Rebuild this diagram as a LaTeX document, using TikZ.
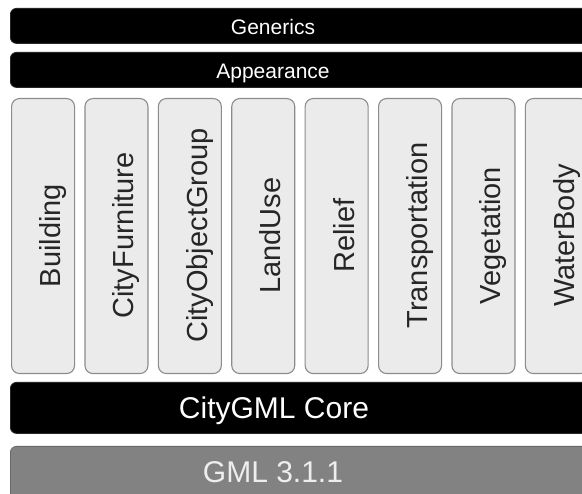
\documentclass[tikz,border=0pt]{standalone}
\usepackage{fontspec}
\setmainfont{Liberation Sans}
\definecolor{colfill}{HTML}{EBEBEB}
\definecolor{colline}{HTML}{8C8C8C}
\definecolor{gmlfill}{HTML}{828282}
\definecolor{gmltext}{HTML}{EEEEEE}
\begin{document}
\begin{tikzpicture}[x=1pt,y=-1pt,
  barbox/.style={draw=black!85, fill=black, rounded corners=6pt, line width=0.8pt,
    anchor=north west, inner sep=0pt, minimum width=640pt},
  gmlbox/.style={draw=gmlfill!80!black, fill=gmlfill, rounded corners=6pt, line width=0.8pt,
    anchor=north west, inner sep=0pt, minimum width=640pt, minimum height=80pt},
  colbox/.style={draw=colline, fill=colfill, rounded corners=8pt, line width=1.1pt,
    anchor=north west, inner sep=0pt, minimum width=63pt, minimum height=275pt},
  smalltext/.style={text=white, anchor=base, inner sep=0pt, font=\fontsize{21}{24}\selectfont},
  bigtext/.style={anchor=base, inner sep=0pt, font=\fontsize{30}{34}\selectfont},
  coltext/.style={text=black!85, anchor=base, rotate=90, inner sep=0pt, font=\fontsize{29}{32}\selectfont}
]
\clip (0,0) rectangle (582,494);
\fill[white] (0,0) rectangle (582,494);
% bars
\node[barbox, minimum height=35pt] (generics) at (10,8) {};
\node[smalltext] (genericsT) at (273,35) {Generics};
\node[barbox, minimum height=35pt] (appearance) at (10,52) {};
\node[smalltext] (appearanceT) at (273,79) {Appearance};
\node[barbox, minimum height=51pt] (core) at (10,382) {};
\node[bigtext, text=white] (coreT) at (274,419) {CityGML Core};
\node[gmlbox] (gml) at (10,446) {};
\node[bigtext, text=gmltext] (gmlT) at (273,483) {GML 3.1.1};
% columns
\foreach \i/\name in {0/Building,1/CityFurniture,2/CityObjectGroup,3/LandUse,4/Relief,5/Transportation,6/Vegetation,7/WaterBody}{
  \node[colbox] (col\i) at ({11+73.4*\i},98) {};
  \node[coltext] (colT\i) at ({11+73.4*\i+31.5+18},235.5) {\name};
}
\end{tikzpicture}
\end{document}
